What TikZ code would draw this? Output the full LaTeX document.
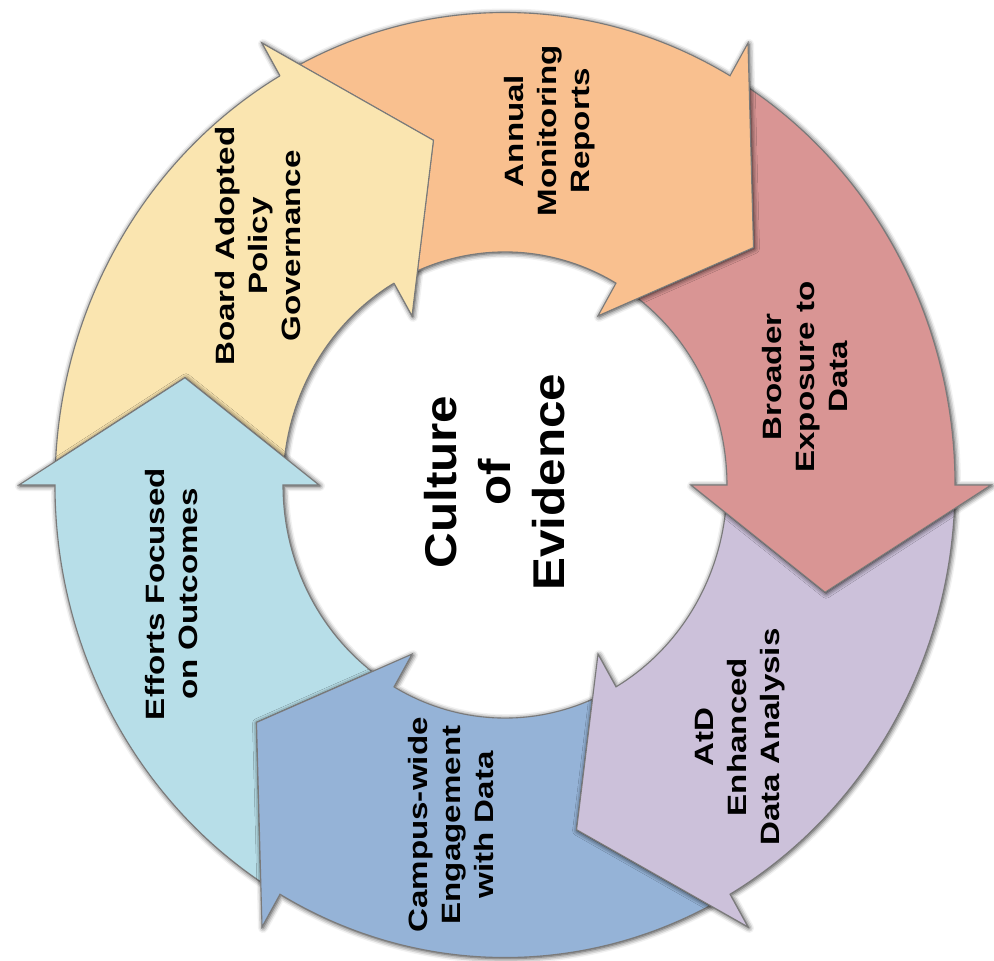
\documentclass[tikz,border=0pt]{standalone}
\usepackage{fontspec}
\setmainfont{Liberation Sans}
\newfontfamily\labfont[FakeStretch=1.25]{Liberation Sans}
\newfontfamily\cenfont[FakeStretch=1.11]{Liberation Sans}
\usetikzlibrary{shadows.blur}
\definecolor{cyel}{HTML}{FAE5B0}
\definecolor{cora}{HTML}{F9C08F}
\definecolor{cpnk}{HTML}{D99594}
\definecolor{cpur}{HTML}{CCC1DA}
\definecolor{cblu}{HTML}{95B3D7}
\definecolor{caqu}{HTML}{B7DEE8}
\definecolor{cedge}{HTML}{7A7A7A}
\tikzset{
  arrowshape/.style={insert path={
    (#1+57.134:450) arc[start angle=#1+57.134, end angle=#1, radius=450]
    -- (#1:486) -- (#1-17.7:336) -- (#1:186) -- (#1:222)
    arc[start angle=#1, end angle=#1+53.211, radius=222]
    -- (#1+42.3:336) -- cycle}},
  arr/.style={draw=cedge, line width=1.1pt, line join=miter,
    blur shadow={shadow xshift=1pt, shadow yshift=-1pt,
      shadow blur radius=5pt, shadow opacity=85}},
  lab/.style={rotate=90, align=center, inner sep=0pt,
    font=\labfont\bfseries\fontsize{26.5}{33}\selectfont},
  cen/.style={rotate=90, align=center, inner sep=0pt,
    font=\cenfont\bfseries\fontsize{44.5}{54}\selectfont}
}
\begin{document}
\begin{tikzpicture}[x=1pt,y=1pt]
\useasboundingbox (0,0) rectangle (994,-961);
\begin{scope}[shift={(505,-485)}, yscale=1.05]
  \path[arr, fill=cyel, arrowshape=120];
  \path[arr, fill=caqu, arrowshape=180];
  \path[arr, fill=cblu, arrowshape=-120];
  \path[arr, fill=cpur, arrowshape=-60];
  \path[arr, fill=cpnk, arrowshape=0];
  \path[arr, fill=cora, arrowshape=60];
  % yellow head back on top of the orange tail
  \fill[cyel] (120:486) -- (102.3:336) -- (120:186) -- cycle;
  \draw[cedge, line width=1.1pt, line join=miter]
    (120:450) -- (120:486) -- (102.3:336) -- (120:186) -- (120:222);
\end{scope}
\node[lab] (board) at (258,-246) {Board Adopted\\Policy\\Governance};
\node[lab] (annual) at (550,-131) {Annual\\Monitoring\\Reports};
\node[lab] (broad) at (805,-377) {Broader\\Exposure to\\Data};
\node[lab] (atd) at (740,-737) {AtD\\Enhanced\\Data Analysis};
\node[lab] (campus) at (451,-825) {Campus-wide\\Engagement\\with Data};
\node[lab] (eff) at (172,-594) {Efforts Focused\\on Outcomes};
\node[cen] (cult) at (495,-482) {Culture\\of\\Evidence};
\end{tikzpicture}
\end{document}
